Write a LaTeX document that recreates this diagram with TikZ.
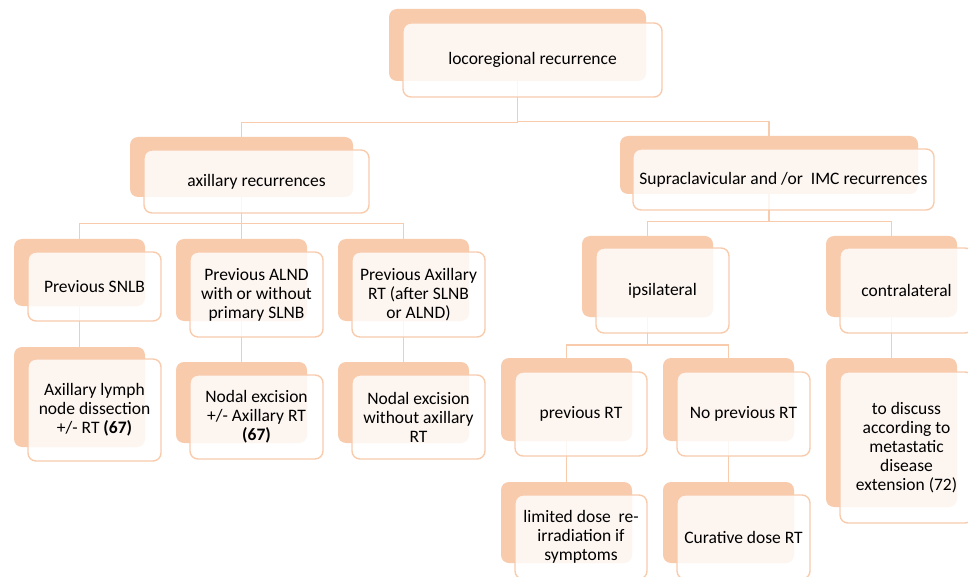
\documentclass[tikz,border=0pt]{standalone}
\usepackage{fontspec}
\setmainfont{Carlito}
\definecolor{peach}{HTML}{F8CBAD}
\tikzset{
  back/.style={fill=peach, rounded corners=8pt, inner sep=0pt},
  front/.style={draw=peach, line width=1.4pt, fill=white, fill opacity=0.82, text opacity=1,
    rounded corners=8pt, align=center, inner sep=2pt, font=\fontsize{17.5}{19}\selectfont},
  link/.style={draw=peach, line width=1.4pt}
}
\begin{document}
\begin{tikzpicture}[x=1pt, y=-1pt]
\useasboundingbox (0,0) rectangle (968,577);
\clip (0,0) rectangle (968,577);

% back boxes
\node[back, minimum width=257, minimum height=72] (lr-b) at (517.5,45) {};
\node[back, minimum width=223, minimum height=60] (ax-b) at (241.5,167) {};
\node[back, minimum width=298, minimum height=58] (sc-b) at (769,165) {};
\node[back, minimum width=131, minimum height=67] (snlb-b) at (79.5,272.5) {};
\node[back, minimum width=131, minimum height=82] (alnd-b) at (241.5,280) {};
\node[back, minimum width=131, minimum height=82] (axrt-b) at (403.5,280) {};
\node[back, minimum width=131, minimum height=81] (ipsi-b) at (647.5,276.5) {};
\node[back, minimum width=131, minimum height=81] (contra-b) at (891.5,276.5) {};
\node[back, minimum width=131, minimum height=100] (ald-b) at (79.5,397) {};
\node[back, minimum width=131, minimum height=81] (ne1-b) at (241.5,402.5) {};
\node[back, minimum width=131, minimum height=81] (ne2-b) at (403.5,402.5) {};
\node[back, minimum width=131, minimum height=83] (prt-b) at (566.5,399.5) {};
\node[back, minimum width=131, minimum height=83] (nprt-b) at (728.5,399.5) {};
\node[back, minimum width=131, minimum height=149] (disc-b) at (891.5,432.5) {};
\node[back, minimum width=131, minimum height=81] (ldr-b) at (566.5,522.5) {};
\node[back, minimum width=131, minimum height=81] (cur-b) at (728.5,522.5) {};

% connectors
\draw[link] (lr-b.south) |- ([yshift=14pt]ax-b.north) -- (ax-b.north);
\draw[link] (lr-b.south) |- ([yshift=14pt]sc-b.north) -- (sc-b.north);
\draw[link] (ax-b.south) |- ([yshift=15pt]snlb-b.north) -- (snlb-b.north);
\draw[link] (ax-b.south) -- (alnd-b.north);
\draw[link] (ax-b.south) |- ([yshift=15pt]axrt-b.north) -- (axrt-b.north);
\draw[link] (sc-b.south) |- ([yshift=14pt]ipsi-b.north) -- (ipsi-b.north);
\draw[link] (sc-b.south) |- ([yshift=14pt]contra-b.north) -- (contra-b.north);
\draw[link] (snlb-b) -- (ald-b);
\draw[link] (alnd-b) -- (ne1-b);
\draw[link] (axrt-b) -- (ne2-b);
\draw[link] (ipsi-b.south) |- ([yshift=13pt]prt-b.north) -- (prt-b.north);
\draw[link] (ipsi-b.south) |- ([yshift=13pt]nprt-b.north) -- (nprt-b.north);
\draw[link] (contra-b) -- (disc-b);
\draw[link] (prt-b) -- (ldr-b);
\draw[link] (nprt-b) -- (cur-b);

% front boxes
\node[front, minimum width=259, minimum height=74] (lr) at (532.5,60) {locoregional recurrence};
\node[front, minimum width=225, minimum height=63] (ax) at (256.5,181.5) {axillary recurrences};
\node[front, minimum width=301, minimum height=61] (sc) at (783.5,179.5) {Supraclavicular and /or\ \ IMC recurrences};
\node[front, minimum width=133, minimum height=69] (snlb) at (94.5,286.5) {Previous SNLB};
\node[front, minimum width=133, minimum height=85] (alnd) at (256.5,294.5) {Previous ALND\\with or without\\primary SLNB};
\node[front, minimum width=133, minimum height=85] (axrt) at (418.5,294.5) {Previous Axillary\\RT (after SLNB\\or ALND)};
\node[front, minimum width=133, minimum height=85] (ipsi) at (662.5,290.5) {ipsilateral};
\node[front, minimum width=133, minimum height=85] (contra) at (906.5,290.5) {contralateral};
\node[front, minimum width=133, minimum height=102] (ald) at (94.5,410) {Axillary lymph\\node dissection\\+/- RT \textbf{(67)}};
\node[front, minimum width=133, minimum height=84] (ne1) at (256.5,417) {Nodal excision\\+/- Axillary RT\\\textbf{(67)}};
\node[front, minimum width=133, minimum height=84] (ne2) at (418.5,417) {Nodal excision\\without axillary\\RT};
\node[front, minimum width=132, minimum height=84] (prt) at (581,414) {previous RT};
\node[front, minimum width=133, minimum height=84] (nprt) at (743.5,414) {No previous RT};
\node[front, minimum width=133, minimum height=151] (disc) at (906.5,447.5) {to discuss\\according to\\metastatic\\disease\\extension (72)};
\node[front, minimum width=132, minimum height=84] (ldr) at (581,537) {limited dose\ \ re-\\irradiation if\\symptoms};
\node[front, minimum width=133, minimum height=84] (cur) at (743.5,537) {Curative dose RT};
\end{tikzpicture}
\end{document}
